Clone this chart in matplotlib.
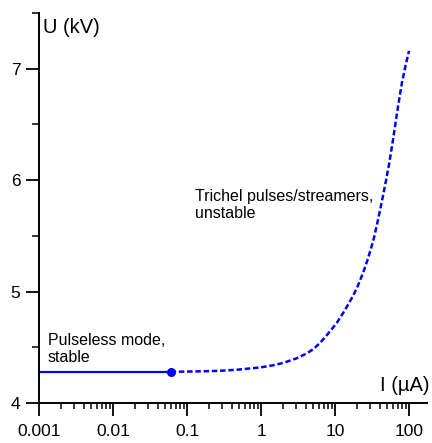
import matplotlib
matplotlib.use("Agg")
import matplotlib.pyplot as plt
from matplotlib.ticker import LogLocator, FixedLocator, NullFormatter

plt.rcParams['font.family'] = ['Liberation Sans', 'DejaVu Sans']

# Pulseless (stable) branch: current in µA, voltage in kV
stable_current = [0.001, 0.06]
stable_voltage = [4.28, 4.28]

# Trichel pulse / streamer (unstable) branch
unstable_current = [0.06, 0.1, 0.2, 0.3, 0.5, 0.7, 1, 1.5, 2, 3, 4, 5, 6.3, 8, 10.6, 13.5,
                    17.5, 20, 24, 28, 33, 38, 43, 48, 54, 61, 71, 80, 90, 100]
unstable_voltage = [4.28, 4.282, 4.286, 4.29, 4.30, 4.31, 4.32, 4.34, 4.36, 4.40, 4.44, 4.48,
                    4.54, 4.62, 4.72, 4.83, 4.96, 5.04, 5.17, 5.30, 5.46, 5.64, 5.81, 5.97,
                    6.15, 6.37, 6.66, 6.87, 7.03, 7.16]

# Transition point between the two regimes
transition_current = [0.06]
transition_voltage = [4.28]

x_major = [0.001, 0.01, 0.1, 1, 10, 100]
x_labels = ["0.001", "0.01", "0.1", "1", "10", "100"]
y_major = [4, 5, 6, 7]
y_minor = [4.5, 5.5, 6.5, 7.5]

blue = "#0000ff"

fig = plt.figure(figsize=(4.32, 4.43), dpi=100)
ax = fig.add_axes([39 / 432, 40 / 443, 388 / 432, 390 / 443])

ax.plot(stable_current, stable_voltage, color=blue, lw=1.6, solid_capstyle='butt')
ax.plot(unstable_current, unstable_voltage, color=blue, lw=1.8, dashes=(2.2, 1.1))
ax.plot(transition_current, transition_voltage, 'o', color=blue, ms=5.5, zorder=5)

ax.set_xscale('log')
ax.set_xlim(0.001, 175)
ax.set_ylim(4, 7.5)

ax.xaxis.set_major_locator(FixedLocator(x_major))
ax.set_xticklabels(x_labels)
ax.xaxis.set_minor_locator(LogLocator(base=10, subs=range(2, 10), numticks=20))
ax.xaxis.set_minor_formatter(NullFormatter())
ax.yaxis.set_major_locator(FixedLocator(y_major))
ax.yaxis.set_minor_locator(FixedLocator(y_minor))

for side in ('top', 'right'):
    ax.spines[side].set_visible(False)
for side in ('left', 'bottom'):
    ax.spines[side].set_linewidth(1.4)

ax.tick_params(axis='x', which='major', direction='out', length=9, width=1.3, pad=6, labelsize=12.5)
ax.tick_params(axis='x', which='minor', direction='out', length=4.5, width=1.1)
ax.tick_params(axis='y', which='major', direction='out', length=9.5, width=1.3, pad=4, labelsize=12.5)
ax.tick_params(axis='y', which='minor', direction='out', length=5, width=1.1)

ax.text(43 / 432, 1 - 33 / 443, "U (kV)", transform=fig.transFigure, fontsize=14.5,
        ha='left', va='baseline')
ax.text(430 / 432, 1 - 391 / 443, "I (\u00b5A)", transform=fig.transFigure, fontsize=14.5,
        ha='right', va='baseline')

ax.text(195 / 432, 1 - 189 / 443, "Trichel pulses/streamers,\nunstable", transform=fig.transFigure,
        fontsize=11.5, ha='left', va='top', linespacing=1.15)
ax.text(48 / 432, 1 - 333 / 443, "Pulseless mode,\nstable", transform=fig.transFigure,
        fontsize=11.5, ha='left', va='top', linespacing=1.15)

fig.savefig("out.png", dpi=100)
